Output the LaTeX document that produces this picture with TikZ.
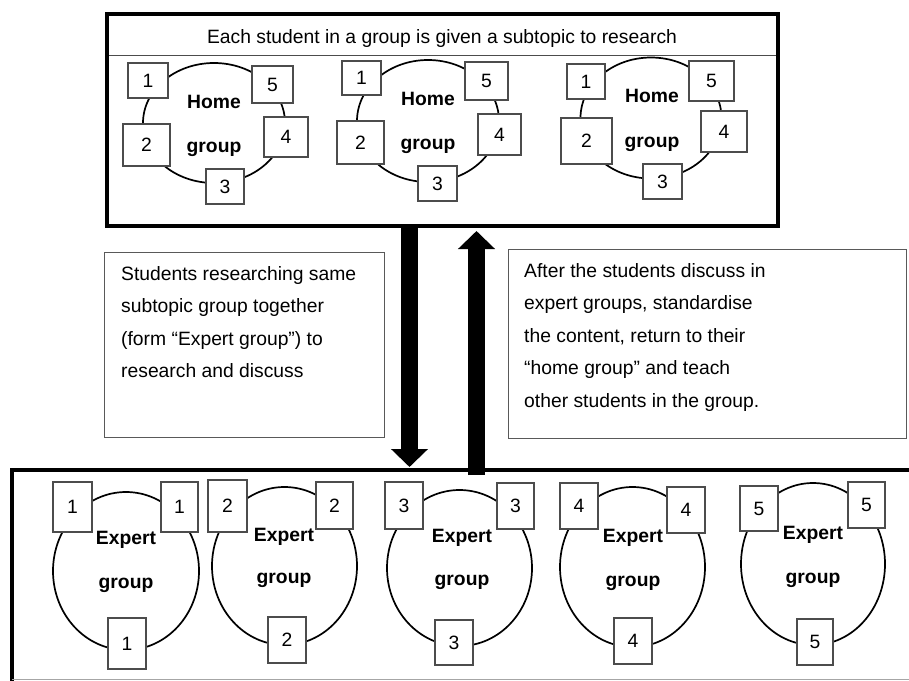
\documentclass[tikz,border=0pt]{standalone}
\usepackage{fontspec}
\setmainfont{Liberation Sans}
\usetikzlibrary{shapes.geometric,arrows.meta}
\begin{document}
\begin{tikzpicture}[x=1pt,y=-1pt,
  sbox/.style={draw=black!70, line width=1.2pt, fill=white, inner sep=0pt, font=\fontsize{19.3}{22}\selectfont},
  grp/.style={ellipse, draw=black, line width=1.7pt, inner sep=0pt},
  lbl/.style={font=\bfseries\fontsize{19.3}{22}\selectfont},
  tbox/.style={draw=black!65, line width=1pt, inner sep=0pt},
  txt/.style={anchor=north west, align=left, inner sep=0pt, font=\fontsize{19.3}{32.6}\selectfont},
  bigarrow/.style={line width=17pt, -{Triangle[width=36pt,length=18pt]}}]
\useasboundingbox (0,0) rectangle (909,680);
\fill[white] (0,0) rectangle (909,680);

% top box
\node[draw, line width=4.5pt, minimum width=671, minimum height=212, inner sep=0pt] (top) at (442.5,120) {};
\draw[black!70, line width=1pt] (109,55) -- (776,55);
\node[font=\fontsize{19.3}{22}\selectfont, anchor=base] (title) at (442,43) {Each student in a group is given a subtopic to research};

% home group 1
\node[grp, minimum width=142, minimum height=120] (hg1) at (214,123) {};
\node[sbox, minimum width=40, minimum height=35] (h1a) at (148,80.5) {1};
\node[sbox, minimum width=41, minimum height=37] (h1e) at (272.5,84.5) {5};
\node[sbox, minimum width=47, minimum height=42] (h1b) at (146.5,145) {2};
\node[sbox, minimum width=44, minimum height=40] (h1d) at (286,137) {4};
\node[sbox, minimum width=38, minimum height=35] (h1c) at (225,186.5) {3};
\node[lbl, anchor=base] (h1t) at (214,108) {Home};
\node[lbl, anchor=base] (h1u) at (214,152) {group};

% home group 2
\node[grp, minimum width=142, minimum height=122] (hg2) at (428,121) {};
\node[sbox, minimum width=39, minimum height=34] (h2a) at (361.5,78) {1};
\node[sbox, minimum width=43, minimum height=38] (h2e) at (486.5,81) {5};
\node[sbox, minimum width=47, minimum height=43] (h2b) at (360.5,142.5) {2};
\node[sbox, minimum width=43, minimum height=41] (h2d) at (499.5,134.5) {4};
\node[sbox, minimum width=39, minimum height=35] (h2c) at (437.5,183.5) {3};
\node[lbl, anchor=base] (h2t) at (428,105) {Home};
\node[lbl, anchor=base] (h2u) at (428,149) {group};

% home group 3
\node[grp, minimum width=141, minimum height=121] (hg3) at (651,118) {};
\node[sbox, minimum width=38, minimum height=35] (h3a) at (586,81.5) {1};
\node[sbox, minimum width=45, minimum height=40] (h3e) at (711.5,81) {5};
\node[sbox, minimum width=51, minimum height=46] (h3b) at (586.5,141) {2};
\node[sbox, minimum width=46, minimum height=41] (h3d) at (724,131.5) {4};
\node[sbox, minimum width=39, minimum height=35] (h3c) at (662.5,181.5) {3};
\node[lbl, anchor=base] (h3t) at (652,102) {Home};
\node[lbl, anchor=base] (h3u) at (652,147) {group};

% text boxes
\node[tbox, minimum width=280, minimum height=185, anchor=north west] (lbox) at (104,252) {};
\node[txt] (ltext) at (121,266) {Students researching same\\subtopic group together\\(form “Expert group”) to\\research and discuss};
\node[tbox, minimum width=398, minimum height=189, anchor=north west] (rbox) at (508,249) {};
\node[txt] (rtext) at (524,263) {After the students discuss in\\expert groups, standardise\\the content, return to their\\“home group” and teach\\other students in the group.};

% arrows
\coordinate (dA) at (409.5,226);
\coordinate (dB) at (409.5,467);
\coordinate (uA) at (476.5,475);
\coordinate (uB) at (476.5,231);
\draw[bigarrow] (dA) -- (dB);
\draw[bigarrow] (uA) -- (uB);

% bottom box
\draw[line width=4.5pt] (909,470) -| (12,690);
\draw[black!35, line width=1pt] (12,679) -- (909,679);

% expert group 1
\node[grp, minimum width=146, minimum height=158] (eg1) at (126,571) {};
\node[sbox, minimum width=39, minimum height=50] (e1a) at (72.5,507) {1};
\node[sbox, minimum width=37, minimum height=50] (e1b) at (179.5,507) {1};
\node[sbox, minimum width=38, minimum height=51] (e1c) at (127,643.5) {1};
\node[lbl, anchor=base] (e1t) at (126,544) {Expert};
\node[lbl, anchor=base] (e1u) at (126,588) {group};

% expert group 2
\node[grp, minimum width=145, minimum height=158] (eg2) at (284.5,566) {};
\node[sbox, minimum width=39, minimum height=52] (e2a) at (227.5,506) {2};
\node[sbox, minimum width=37, minimum height=47] (e2b) at (334.5,505.5) {2};
\node[sbox, minimum width=38, minimum height=46] (e2c) at (287,640) {2};
\node[lbl, anchor=base] (e2t) at (284,541) {Expert};
\node[lbl, anchor=base] (e2u) at (284,583) {group};

% expert group 3
\node[grp, minimum width=145, minimum height=156] (eg3) at (459.5,568) {};
\node[sbox, minimum width=38, minimum height=47] (e3a) at (404,505.5) {3};
\node[sbox, minimum width=37, minimum height=46] (e3b) at (515.5,506) {3};
\node[sbox, minimum width=38, minimum height=45] (e3c) at (454,642.5) {3};
\node[lbl, anchor=base] (e3t) at (462,542) {Expert};
\node[lbl, anchor=base] (e3u) at (462,585) {group};

% expert group 4
\node[grp, minimum width=145, minimum height=160] (eg4) at (632.5,567) {};
\node[sbox, minimum width=38, minimum height=46] (e4a) at (579,506) {4};
\node[sbox, minimum width=38, minimum height=46] (e4b) at (686,510) {4};
\node[sbox, minimum width=38, minimum height=46] (e4c) at (633,641) {4};
\node[lbl, anchor=base] (e4t) at (633,542) {Expert};
\node[lbl, anchor=base] (e4u) at (633,586) {group};

% expert group 5
\node[grp, minimum width=144, minimum height=162] (eg5) at (813,564) {};
\node[sbox, minimum width=38, minimum height=45] (e5a) at (759,508.5) {5};
\node[sbox, minimum width=37, minimum height=46] (e5b) at (866.5,505) {5};
\node[sbox, minimum width=36, minimum height=46] (e5c) at (815,642) {5};
\node[lbl, anchor=base] (e5t) at (813,539) {Expert};
\node[lbl, anchor=base] (e5u) at (813,583) {group};
\end{tikzpicture}
\end{document}
